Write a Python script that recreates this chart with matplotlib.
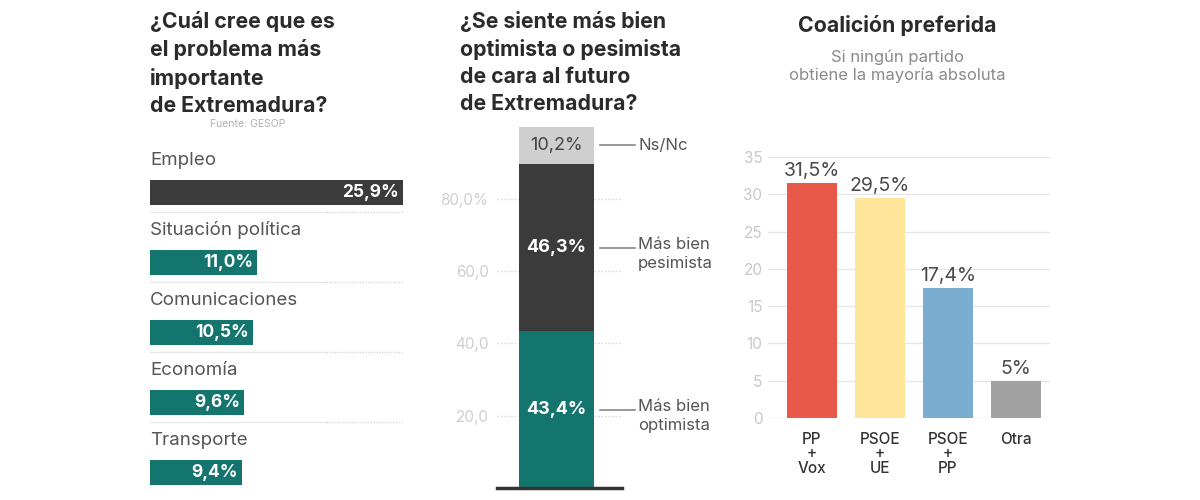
import matplotlib
matplotlib.use('Agg')
import matplotlib.pyplot as plt

plt.rcParams['font.family'] = ['Inter', 'DejaVu Sans']

# datos
problemas = ['Empleo', 'Situación política', 'Comunicaciones', 'Economía', 'Transporte']
problemas_pct = [25.9, 11.0, 10.5, 9.6, 9.4]

animo = ['Más bien\noptimista', 'Más bien\npesimista', 'Ns/Nc']
animo_pct = [43.4, 46.3, 10.2]
animo_ticks = [20, 40, 60, 80]
animo_tick_labels = ['20,0', '40,0', '60,0', '80,0%']

coaliciones = ['PP\n+\nVox', 'PSOE\n+\nUE', 'PSOE\n+\nPP', 'Otra']
coaliciones_pct = [31.5, 29.5, 17.4, 5.0]
coaliciones_txt = ['31,5%', '29,5%', '17,4%', '5%']

W, H = 1200, 500
fig = plt.figure(figsize=(12, 5), dpi=100)


def px_axes(x0, y_top, w, h):
    return fig.add_axes([x0 / W, (H - y_top - h) / H, w / W, h / H])


def fmt(v):
    return f'{v:.1f}%'.replace('.', ',')


TITLE = '#2b2b2b'
TEAL = '#13756d'
DARK = '#3b3b3b'

# --- panel 1 ---
fig.text(150 / W, 1 - 11 / H, '¿Cuál cree que es\nel problema más\nimportante\nde Extremadura?',
         ha='left', va='top', fontsize=15.3, fontweight='bold', color=TITLE, linespacing=1.43)
fig.text(248 / W, 1 - 124 / H, 'Fuente: GESOP', ha='center', va='center', fontsize=7.5, color='#b0b0b0')

ax1 = px_axes(150, 142, 253, 350)
ax1.set_xlim(0, max(problemas_pct))
ax1.set_ylim(5, 0)
ax1.axis('off')
for i, (nom, v) in enumerate(zip(problemas, problemas_pct)):
    col = DARK if i == 0 else TEAL
    ax1.barh(i + 0.72, v, height=0.36, color=col, left=0)
    ax1.text(0, i + 0.26, nom, ha='left', va='center', fontsize=13.5, color='#555555')
    ax1.text(v - 0.4, i + 0.72, fmt(v), ha='right', va='center', fontsize=12.5,
             fontweight='bold', color='white')
    if i < len(problemas) - 1:
        ax1.plot([0, 18], [i + 1.0, i + 1.0], color='#e8e8e8', lw=1)
        ax1.plot([18, max(problemas_pct)], [i + 1.0, i + 1.0], color='#d8d8d8', lw=1, ls=(0, (1, 1)))

# --- panel 2 ---
fig.text(460 / W, 1 - 11 / H, '¿Se siente más bien\noptimista o pesimista\nde cara al futuro\nde Extremadura?',
         ha='left', va='top', fontsize=15.3, fontweight='bold', color=TITLE, linespacing=1.43)

ax2 = px_axes(497, 127, 125, 361)
ax2.set_xlim(0, 125)
ax2.set_ylim(0, sum(animo_pct))
for s in ax2.spines.values():
    s.set_visible(False)
ax2.set_xticks([])
ax2.set_yticks(animo_ticks)
ax2.set_yticklabels(animo_tick_labels, color='#cfcfcf', fontsize=11)
ax2.tick_params(axis='y', length=0, pad=6)
ax2.grid(axis='y', color='#d5d5d5', ls=(0, (1, 1.5)), lw=1)
ax2.set_axisbelow(True)

colores2 = [TEAL, DARK, '#cfcfcf']
etq_col = ['white', 'white', '#444444']
etq_w = ['bold', 'bold', 'normal']
base = 0
for nom, v, c, tc, fw in zip(animo, animo_pct, colores2, etq_col, etq_w):
    ax2.bar(59.5, v, width=75, bottom=base, color=c, zorder=2)
    yc = base + v / 2
    ax2.text(59.5, yc, fmt(v), ha='center', va='center', fontsize=13, color=tc, fontweight=fw, zorder=3)
    ax2.plot([103, 138], [yc, yc], color='#888888', lw=1.2, clip_on=False)
    if '\n' in nom:
        ax2.text(141, yc + 2.9, nom, ha='left', va='top', fontsize=12, color='#555555', linespacing=1.3)
    else:
        ax2.text(141, yc, nom, ha='left', va='center', fontsize=12, color='#555555')
    base += v
ax2.axhline(0, color='#333333', lw=2.5, zorder=4, clip_on=False)

# --- panel 3 ---
fig.text(897 / W, 1 - 25 / H, 'Coalición preferida', ha='center', va='center',
         fontsize=15.3, fontweight='bold', color=TITLE)
fig.text(897 / W, 1 - 66 / H, 'Si ningún partido\nobtiene la mayoría absoluta', ha='center', va='center',
         fontsize=12, color='#8a8a8a', linespacing=1.2)

ax3 = px_axes(768, 157, 282, 261)
ax3.set_xlim(-0.647, 3.5)
ax3.set_ylim(0, 35)
for s in ax3.spines.values():
    s.set_visible(False)
colores3 = ['#e8594a', '#fde59a', '#7badd0', '#a2a2a2']
x = range(len(coaliciones))
ax3.bar(x, coaliciones_pct, width=0.735, color=colores3, zorder=2)
for xi, v, t in zip(x, coaliciones_pct, coaliciones_txt):
    ax3.text(xi, v + 0.4, t, ha='center', va='bottom', fontsize=14, color='#4a4a4a')
ax3.set_yticks(range(0, 36, 5))
ax3.set_yticklabels([str(v) for v in range(0, 36, 5)], color='#c8c8c8', fontsize=11)
ax3.tick_params(axis='y', length=0, pad=4)
ax3.grid(axis='y', color='#e6e6e6', lw=1)
ax3.set_axisbelow(True)
ax3.set_xticks(list(x))
ax3.set_xticklabels(coaliciones, fontsize=11, color='#333333', linespacing=0.95, fontweight='medium')
ax3.tick_params(axis='x', length=0, pad=10)

fig.savefig('out.png', dpi=100, facecolor='white')
plt.close(fig)
